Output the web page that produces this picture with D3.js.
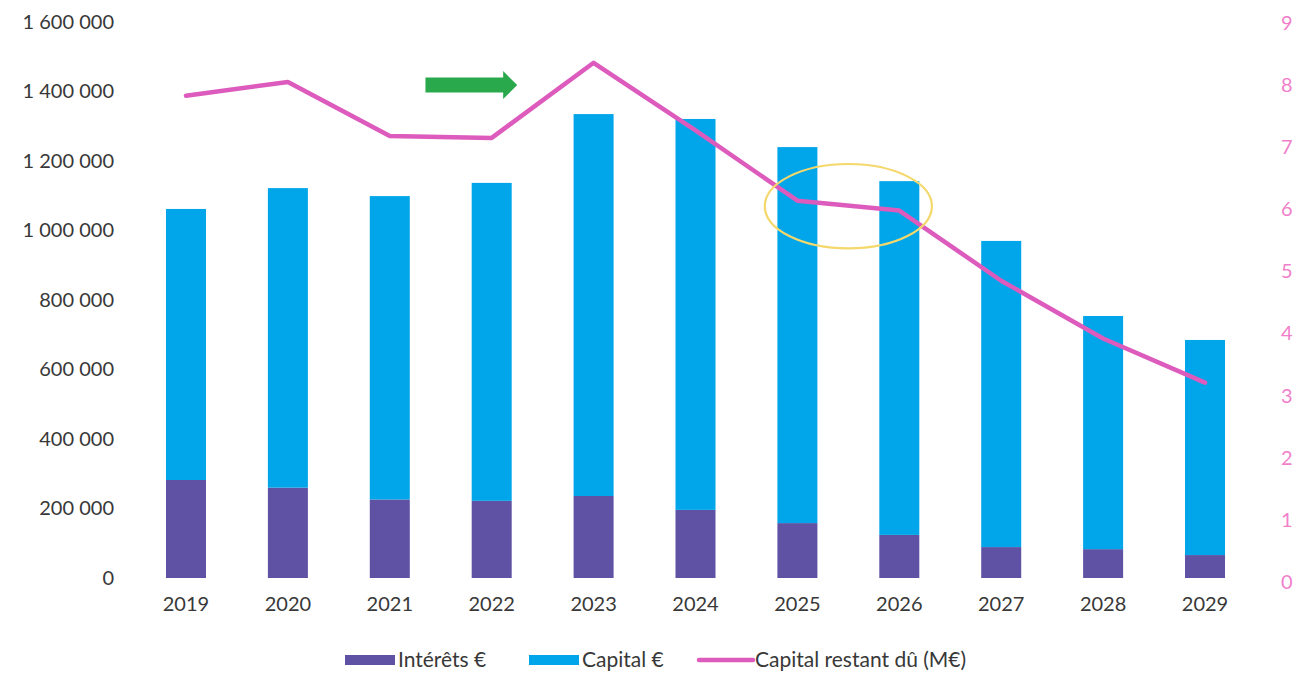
<!DOCTYPE html>
<html lang="fr">
<head>
<meta charset="utf-8">
<title>Annuités d'emprunt 2019-2029</title>
<script src="https://cdn.jsdelivr.net/npm/d3@7"></script>
<style>
  html, body { margin: 0; padding: 0; background: #ffffff; }
  svg { display: block; }
  text { font-family: Lato, "Open Sans", "Noto Sans", sans-serif; }
</style>
</head>
<body>
<svg id="chart" width="1303" height="674"></svg>
<script>
// Annuités de la dette : intérêts + capital remboursé (axe gauche, €)
// et capital restant dû en fin d'année (axe droit, M€)
const annees = ["2019", "2020", "2021", "2022", "2023", "2024", "2025", "2026", "2027", "2028", "2029"];
const interets = [282000, 260000, 226000, 222000, 236000, 196000, 158000, 124000, 89000, 83000, 66000];
const capital = [780000, 862000, 873000, 915000, 1099000, 1125000, 1082000, 1018000, 881000, 671000, 619000];
const restantDu = [7.83, 8.05, 7.18, 7.15, 8.36, 7.27, 6.14, 5.98, 4.85, 3.92, 3.21];

const ticksGauche = [0, 200000, 400000, 600000, 800000, 1000000, 1200000, 1400000, 1600000];
const ticksDroite = [0, 1, 2, 3, 4, 5, 6, 7, 8, 9];

const series = [
  { nom: "Intérêts €", type: "bar", couleur: "#5f51a3" },
  { nom: "Capital €", type: "bar", couleur: "#00a6e9" },
  { nom: "Capital restant dû (M€)", type: "line", couleur: "#dc5bbd" }
];

const svg = d3.select("#chart");

const fr = d3.formatLocale({ decimal: ",", thousands: " ", grouping: [3], currency: ["", " €"] });
const fmt = fr.format(",d");

const x = d3.scaleBand()
  .domain(annees)
  .range([135, 1256])
  .paddingInner(0.6075)
  .paddingOuter(0.304);

const yG = d3.scaleLinear().domain([0, 1600000]).range([578, 22]);
const yD = d3.scaleLinear().domain([0, 9]).range([582, 23]);

const lignes = annees.map((a, i) => ({
  annee: a,
  interets: interets[i],
  capital: capital[i],
  restant: restantDu[i]
}));

// barres empilées
const pile = d3.stack().keys(["interets", "capital"])(lignes);
const couleurs = { interets: series[0].couleur, capital: series[1].couleur };

svg.append("g")
  .selectAll("g")
  .data(pile)
  .join("g")
  .attr("fill", d => couleurs[d.key])
  .selectAll("rect")
  .data(d => d)
  .join("rect")
  .attr("x", d => x(d.data.annee))
  .attr("width", x.bandwidth())
  .attr("y", d => yG(d[1]))
  .attr("height", d => yG(d[0]) - yG(d[1]));

// courbe du capital restant dû
const cx = a => x(a) + x.bandwidth() / 2;
const ligne = d3.line()
  .x(d => cx(d.annee))
  .y(d => yD(d.restant));

svg.append("path")
  .datum(lignes)
  .attr("fill", "none")
  .attr("stroke", series[2].couleur)
  .attr("stroke-width", 4.5)
  .attr("stroke-linejoin", "round")
  .attr("stroke-linecap", "round")
  .attr("d", ligne);

// axe gauche
const axeG = svg.append("g")
  .attr("transform", "translate(114,0)")
  .call(d3.axisLeft(yG).tickValues(ticksGauche).tickFormat(fmt).tickSize(0).tickPadding(0));
axeG.select(".domain").remove();
axeG.selectAll("text")
  .attr("fill", "#383838")
  .style("font-size", "20px")
  .style("font-family", "Lato, 'Open Sans', sans-serif");

// axe droit
const axeD = svg.append("g")
  .attr("transform", "translate(1281,0)")
  .call(d3.axisRight(yD).tickValues(ticksDroite).tickFormat(d3.format("d")).tickSize(0).tickPadding(0));
axeD.select(".domain").remove();
axeD.selectAll("text")
  .attr("fill", "#f17fcb")
  .style("font-size", "20px")
  .style("font-family", "Lato, 'Open Sans', sans-serif");

// axe des années
const axeX = svg.append("g")
  .attr("transform", "translate(0,597)")
  .call(d3.axisBottom(x).tickSize(0).tickPadding(0));
axeX.select(".domain").remove();
axeX.selectAll("text")
  .attr("fill", "#383838")
  .attr("dy", "0.71em")
  .style("font-size", "20px")
  .style("font-family", "Lato, 'Open Sans', sans-serif");

// annotations : flèche verte et ellipse jaune
const pas = x.step();
const fleche = { debut: 2, decalDebut: 0.35, fin: 3, decalFin: 0.25, niveau: 8.0, epaisseur: 15, tete: 28, longueurTete: 14 };
const xa = cx(annees[fleche.debut]) + fleche.decalDebut * pas;
const xb = cx(annees[fleche.fin]) + fleche.decalFin * pas;
const ya = yD(fleche.niveau);
const e = fleche.epaisseur / 2, h = fleche.tete / 2;
svg.append("path")
  .attr("fill", "#2aa84c")
  .attr("d", `M${xa},${ya - e} L${xb - fleche.longueurTete},${ya - e} L${xb - fleche.longueurTete},${ya - h} L${xb},${ya} L${xb - fleche.longueurTete},${ya + h} L${xb - fleche.longueurTete},${ya + e} L${xa},${ya + e} Z`);

const ellipse = { de: 6, a: 7, niveau: 6.05, demiLargeur: 0.82, demiHauteur: 0.68 };
svg.append("ellipse")
  .attr("cx", (cx(annees[ellipse.de]) + cx(annees[ellipse.a])) / 2)
  .attr("cy", yD(ellipse.niveau))
  .attr("rx", ellipse.demiLargeur * pas)
  .attr("ry", yD(0) - yD(ellipse.demiHauteur))
  .attr("fill", "none")
  .attr("stroke", "#f4d86c")
  .attr("stroke-width", 2.2);

// légende
const leg = svg.append("g").attr("transform", "translate(0,660)");
const departs = [345, 529, 697];
series.forEach((s, i) => {
  const g = leg.append("g").attr("transform", `translate(${departs[i]},0)`);
  if (s.type === "bar") {
    g.append("rect").attr("x", 0).attr("y", -5).attr("width", 50).attr("height", 10).attr("fill", s.couleur);
  } else {
    g.append("line").attr("x1", 2).attr("x2", 56).attr("y1", 0).attr("y2", 0)
      .attr("stroke", s.couleur).attr("stroke-width", 4.5).attr("stroke-linecap", "round");
  }
  const keyW = s.type === "bar" ? 53 : 58;
  g.append("text")
    .attr("x", keyW)
    .attr("y", 0)
    .attr("dy", "0.35em")
    .attr("fill", "#383838")
    .style("font-size", "21px")
    .text(s.nom);
});
</script>
</body>
</html>
